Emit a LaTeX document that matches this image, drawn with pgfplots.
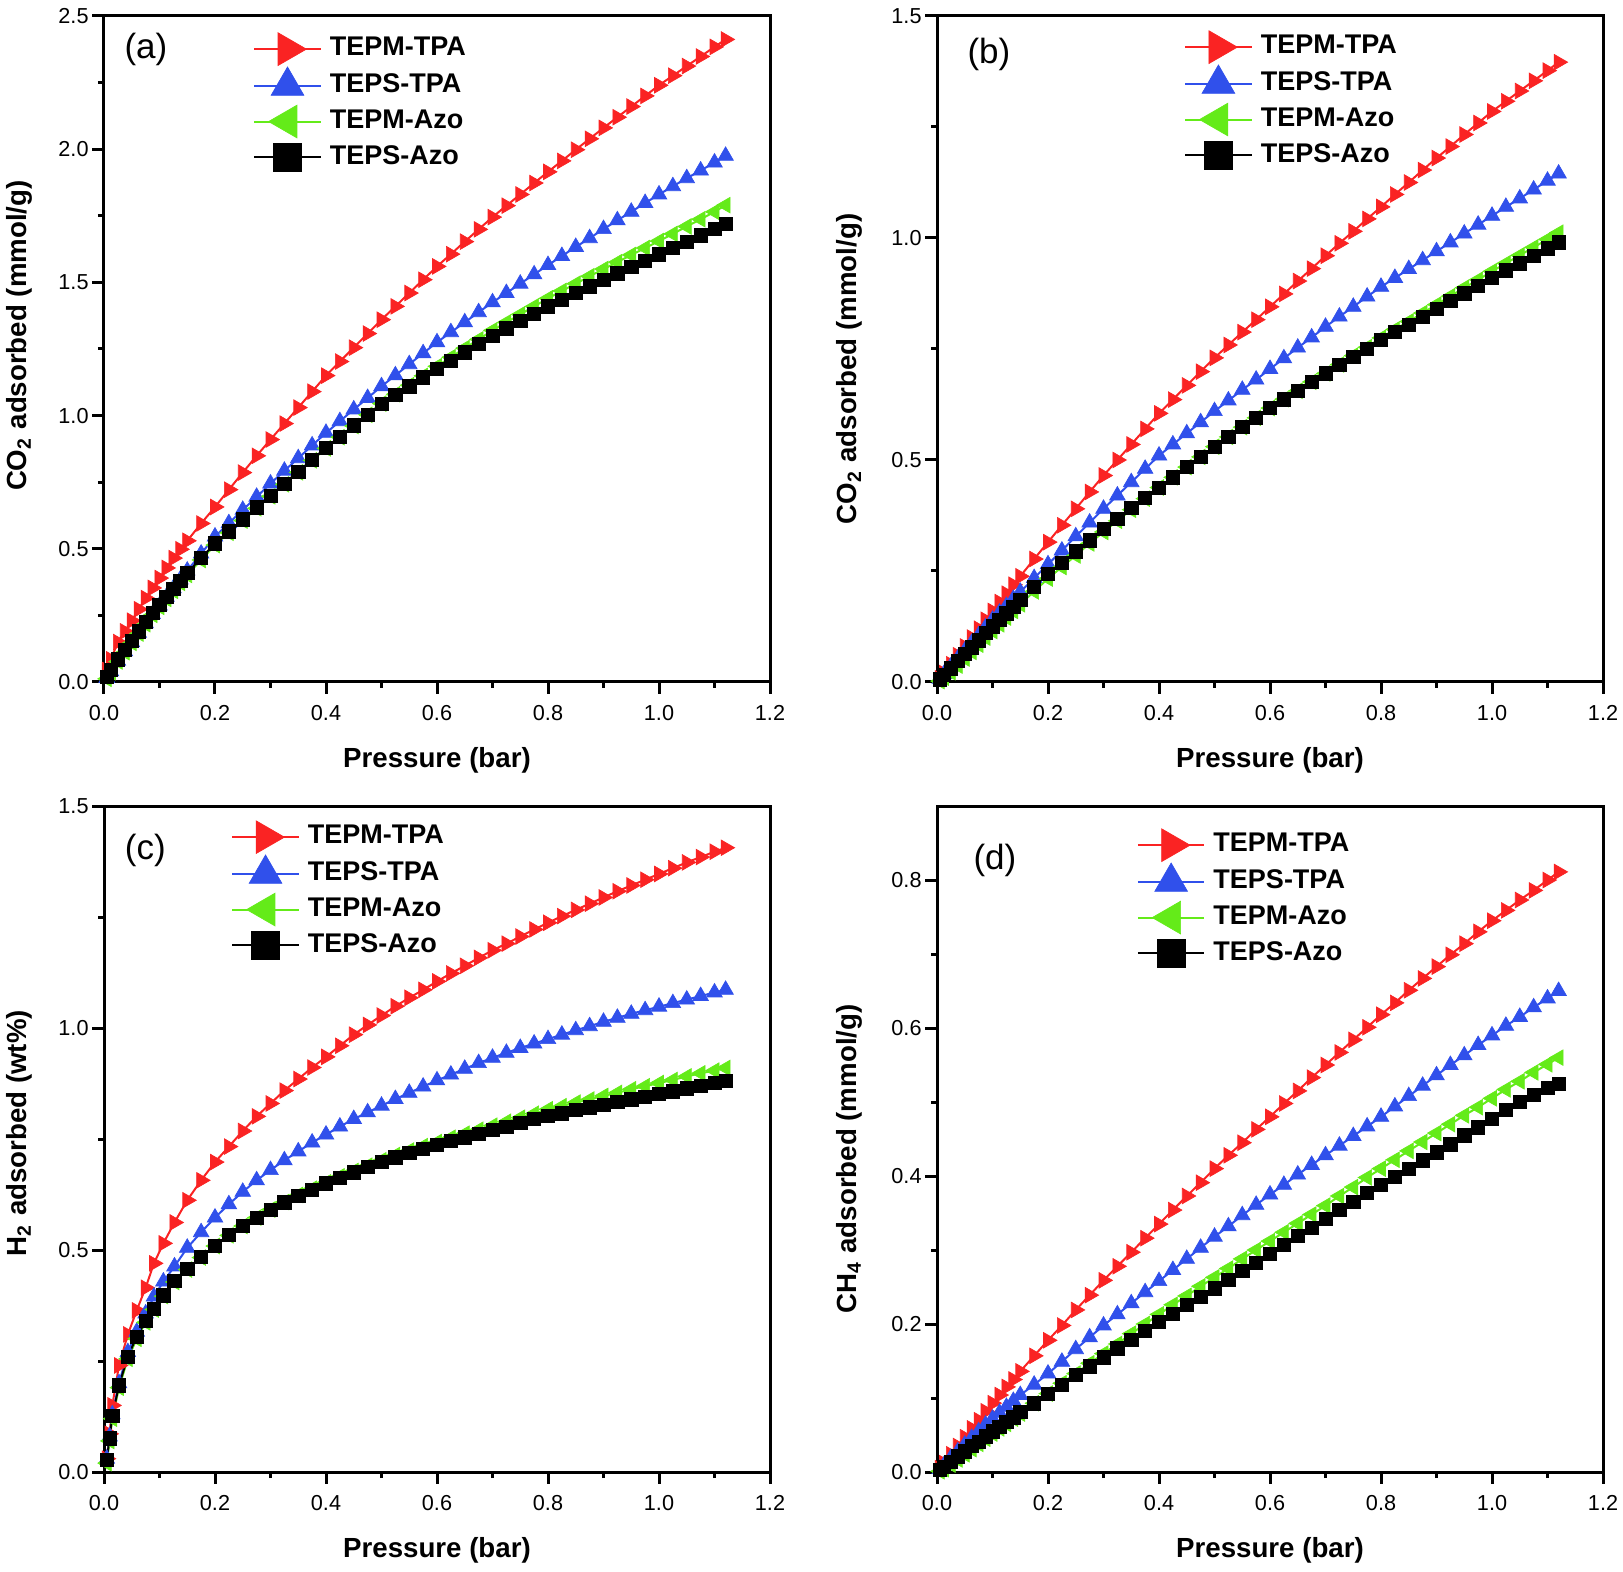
\documentclass[border=0pt]{standalone}
\usepackage{pgfplots}
\pgfplotsset{compat=1.18}
\usepackage{pgfplotstable}
\usepackage{fontspec}
\setmainfont{Liberation Sans}
\definecolor{cR}{RGB}{250,35,35}
\definecolor{cB}{RGB}{48,80,235}
\definecolor{cG}{RGB}{100,235,25}

\pgfplotstableread{
x      r      b      g      k
0.005  0.045  0.015  0.012  0.020
0.0125 0.085  0.040  0.037  0.045
0.025  0.150  0.080  0.077  0.085
0.0375 0.190  0.115  0.112  0.120
0.05   0.230  0.150  0.147  0.155
0.0625 0.273  0.185  0.182  0.190
0.075  0.315  0.220  0.217  0.225
0.0875 0.353  0.255  0.252  0.260
0.1    0.390  0.287  0.282  0.290
0.1125 0.428  0.320  0.312  0.320
0.125  0.465  0.352  0.342  0.350
0.1375 0.498  0.385  0.372  0.380
0.15   0.530  0.418  0.402  0.410
0.175  0.595  0.482  0.458  0.465
0.2    0.657  0.546  0.514  0.520
0.225  0.722  0.596  0.560  0.565
0.25   0.786  0.646  0.606  0.610
0.275  0.849  0.695  0.652  0.655
0.3    0.910  0.745  0.697  0.700
0.325  0.970  0.793  0.742  0.745
0.35   1.030  0.840  0.787  0.790
0.375  1.090  0.888  0.832  0.835
0.4    1.150  0.935  0.877  0.880
0.425  1.203  0.979  0.919  0.921
0.45   1.255  1.023  0.961  0.963
0.475  1.308  1.066  1.003  1.004
0.5    1.360  1.110  1.045  1.045
0.525  1.410  1.151  1.080  1.078
0.55   1.460  1.193  1.114  1.110
0.575  1.510  1.234  1.149  1.143
0.6    1.560  1.275  1.185  1.175
0.625  1.606  1.313  1.219  1.206
0.65   1.653  1.350  1.253  1.238
0.675  1.699  1.388  1.286  1.269
0.7    1.745  1.425  1.320  1.300
0.725  1.788  1.460  1.350  1.328
0.75   1.830  1.495  1.380  1.355
0.775  1.873  1.530  1.410  1.383
0.8    1.915  1.565  1.440  1.410
0.825  1.956  1.599  1.468  1.435
0.85   1.998  1.633  1.495  1.460
0.875  2.039  1.666  1.523  1.485
0.9    2.080  1.700  1.550  1.510
0.925  2.120  1.733  1.576  1.534
0.95   2.160  1.765  1.603  1.558
0.975  2.200  1.798  1.629  1.581
1.0    2.240  1.830  1.655  1.605
1.025  2.276  1.861  1.682  1.629
1.05   2.312  1.891  1.710  1.653
1.075  2.348  1.920  1.737  1.677
1.1    2.384  1.950  1.765  1.701
1.12   2.412  1.975  1.790  1.720
}\tA

\pgfplotstableread{
x      r      b      g      k
0.005  0.008  0.007  0.002  0.006
0.0125 0.020  0.018  0.010  0.016
0.025  0.040  0.035  0.022  0.031
0.0375 0.060  0.053  0.037  0.047
0.05   0.080  0.070  0.053  0.063
0.0625 0.100  0.088  0.068  0.078
0.075  0.120  0.105  0.084  0.094
0.0875 0.140  0.123  0.100  0.110
0.1    0.160  0.140  0.115  0.125
0.1125 0.180  0.156  0.130  0.140
0.125  0.199  0.171  0.145  0.155
0.1375 0.219  0.187  0.160  0.170
0.15   0.238  0.203  0.175  0.185
0.175  0.277  0.234  0.204  0.214
0.2    0.315  0.265  0.233  0.243
0.225  0.353  0.296  0.259  0.268
0.25   0.390  0.328  0.285  0.294
0.275  0.428  0.359  0.312  0.319
0.3    0.465  0.390  0.338  0.345
0.325  0.500  0.420  0.363  0.368
0.35   0.535  0.450  0.388  0.392
0.375  0.570  0.480  0.413  0.415
0.4    0.605  0.510  0.438  0.438
0.425  0.636  0.535  0.461  0.461
0.45   0.668  0.560  0.484  0.484
0.475  0.699  0.585  0.507  0.507
0.5    0.730  0.610  0.530  0.530
0.525  0.759  0.634  0.552  0.552
0.55   0.788  0.658  0.574  0.574
0.575  0.816  0.681  0.595  0.595
0.6    0.845  0.705  0.617  0.617
0.625  0.874  0.729  0.637  0.637
0.65   0.903  0.753  0.656  0.656
0.675  0.931  0.776  0.676  0.676
0.7    0.960  0.800  0.695  0.695
0.725  0.988  0.823  0.715  0.714
0.75   1.015  0.845  0.735  0.733
0.775  1.043  0.868  0.754  0.751
0.8    1.070  0.890  0.775  0.770
0.825  1.098  0.910  0.794  0.788
0.85   1.125  0.930  0.812  0.805
0.875  1.153  0.950  0.831  0.823
0.9    1.180  0.970  0.850  0.840
0.925  1.206  0.990  0.869  0.858
0.95   1.233  1.010  0.888  0.875
0.975  1.259  1.030  0.906  0.893
1.0    1.285  1.050  0.925  0.910
1.025  1.308  1.070  0.943  0.927
1.05   1.331  1.089  0.961  0.943
1.075  1.354  1.109  0.979  0.960
1.1    1.377  1.129  0.997  0.977
1.12   1.396  1.145  1.012  0.990
}\tB

\pgfplotstableread{
x      r      b      g      k
0.005  0.030  0.030  0.020  0.027
0.01   0.086  0.080  0.070  0.076
0.015  0.150  0.130  0.120  0.126
0.027  0.240  0.200  0.190  0.195
0.043  0.310  0.270  0.255  0.260
0.059  0.364  0.316  0.300  0.305
0.075  0.415  0.357  0.337  0.340
0.09   0.470  0.395  0.366  0.368
0.107  0.515  0.429  0.396  0.398
0.127  0.562  0.463  0.428  0.430
0.15   0.612  0.505  0.456  0.457
0.175  0.657  0.540  0.483  0.484
0.2    0.698  0.573  0.509  0.510
0.225  0.733  0.603  0.533  0.534
0.25   0.768  0.631  0.554  0.554
0.275  0.801  0.657  0.573  0.573
0.3    0.830  0.680  0.591  0.590
0.325  0.859  0.702  0.608  0.607
0.35   0.885  0.722  0.624  0.622
0.375  0.911  0.742  0.638  0.636
0.4    0.935  0.760  0.652  0.650
0.425  0.960  0.778  0.666  0.663
0.45   0.985  0.795  0.678  0.675
0.475  1.007  0.810  0.690  0.687
0.5    1.028  0.825  0.702  0.698
0.525  1.049  0.840  0.714  0.709
0.55   1.068  0.854  0.724  0.719
0.575  1.086  0.868  0.734  0.728
0.6    1.105  0.882  0.743  0.737
0.625  1.123  0.895  0.753  0.746
0.65   1.140  0.908  0.762  0.754
0.675  1.158  0.921  0.771  0.762
0.7    1.175  0.933  0.780  0.770
0.725  1.190  0.944  0.789  0.778
0.75   1.206  0.955  0.798  0.786
0.775  1.222  0.965  0.807  0.795
0.8    1.237  0.975  0.817  0.802
0.825  1.252  0.985  0.824  0.808
0.85   1.266  0.995  0.832  0.815
0.875  1.280  1.004  0.839  0.821
0.9    1.294  1.014  0.847  0.827
0.925  1.308  1.023  0.854  0.833
0.95   1.321  1.032  0.862  0.839
0.975  1.334  1.040  0.869  0.845
1.0    1.347  1.048  0.876  0.851
1.025  1.360  1.056  0.883  0.857
1.05   1.373  1.064  0.891  0.864
1.075  1.385  1.072  0.898  0.870
1.1    1.397  1.080  0.904  0.876
1.12   1.406  1.086  0.910  0.881
}\tC

\pgfplotstableread{
x      r      b      g      k
0.005  0.005  0.004  0.001  0.003
0.0125 0.012  0.009  0.004  0.007
0.025  0.024  0.019  0.010  0.014
0.0375 0.035  0.028  0.017  0.021
0.05   0.047  0.037  0.024  0.028
0.0625 0.059  0.046  0.031  0.035
0.075  0.070  0.055  0.038  0.041
0.0875 0.082  0.064  0.045  0.048
0.1    0.093  0.072  0.052  0.055
0.1125 0.104  0.080  0.059  0.061
0.125  0.115  0.088  0.065  0.068
0.1375 0.125  0.096  0.072  0.074
0.15   0.136  0.104  0.079  0.081
0.175  0.157  0.118  0.093  0.093
0.2    0.178  0.133  0.106  0.106
0.225  0.198  0.149  0.120  0.118
0.25   0.219  0.166  0.133  0.131
0.275  0.239  0.182  0.147  0.143
0.3    0.259  0.198  0.160  0.155
0.325  0.278  0.213  0.173  0.167
0.35   0.297  0.228  0.187  0.179
0.375  0.316  0.243  0.200  0.191
0.4    0.335  0.258  0.213  0.203
0.425  0.354  0.273  0.226  0.214
0.45   0.373  0.288  0.238  0.226
0.475  0.391  0.303  0.251  0.237
0.5    0.410  0.318  0.263  0.248
0.525  0.428  0.332  0.275  0.260
0.55   0.445  0.347  0.288  0.272
0.575  0.463  0.361  0.300  0.283
0.6    0.480  0.375  0.312  0.295
0.625  0.498  0.388  0.324  0.307
0.65   0.515  0.402  0.336  0.319
0.675  0.533  0.415  0.348  0.330
0.7    0.550  0.428  0.360  0.342
0.725  0.567  0.441  0.373  0.354
0.75   0.584  0.454  0.385  0.365
0.775  0.601  0.467  0.398  0.377
0.8    0.618  0.480  0.410  0.388
0.825  0.634  0.494  0.422  0.399
0.85   0.651  0.508  0.434  0.410
0.875  0.667  0.522  0.446  0.421
0.9    0.683  0.536  0.458  0.432
0.925  0.699  0.550  0.470  0.443
0.95   0.714  0.563  0.482  0.455
0.975  0.730  0.577  0.493  0.466
1.0    0.745  0.590  0.505  0.477
1.025  0.759  0.603  0.517  0.489
1.05   0.773  0.615  0.528  0.500
1.075  0.786  0.628  0.540  0.510
1.1    0.800  0.640  0.551  0.519
1.12   0.811  0.650  0.560  0.525
}\tD

\newcommand{\labfont}{\fontsize{8.3}{10}\selectfont\bfseries}
\pgfplotsset{
  panel/.style={
    scale only axis, width=199.8pt, height=199.8pt,
    anchor=south west,
    xmin=0, xmax=1.2, ymin=0,
    xtick={0,0.2,0.4,0.6,0.8,1.0,1.2},
    minor x tick num=1, minor y tick num=1,
    tick align=outside, xtick pos=left, ytick pos=left,
    axis line style={line width=0.9pt},
    every tick/.style={black, line width=0.9pt},
    major tick length=3.5pt, minor tick length=1.8pt,
    /pgf/number format/assume math mode=true,
    /pgf/number format/fixed,
    /pgf/number format/fixed zerofill,
    /pgf/number format/precision=1,
    tick label style={font=\fontsize{6.5}{7.5}\selectfont},
    yticklabel style={xshift=2.4pt},
    xlabel={Pressure (bar)},
    every axis x label/.style={at={(axis description cs:0.5,-0.118)}, anchor=center, font=\labfont},
    legend cell align=left,
    legend style={draw=none, fill=none, inner sep=0pt, outer sep=0pt,
      anchor=north west, column sep=2.4pt, row sep=0pt,
      font=\fontsize{8.1}{9}\selectfont\bfseries, nodes={inner sep=0pt}},
    legend image code/.code={
      \path[draw=none, fill=none] (0pt,-5.35pt) rectangle (20pt,5.35pt);
      \draw[##1, line width=0.6pt] (0pt,0pt) -- (20pt,0pt);
      \draw[##1, every mark/.append style={scale=2.1}] plot coordinates {(10pt,0pt)};
    },
  },
  sR/.style={cR, line width=0.6pt, mark=triangle*, mark size=2.7pt,
    mark options={solid, fill=cR, draw=cR, rotate=270, line width=0.2pt}},
  sB/.style={cB, line width=0.6pt, mark=triangle*, mark size=2.7pt,
    mark options={solid, fill=cB, draw=cB, line width=0.2pt}},
  sG/.style={cG, line width=0.6pt, mark=triangle*, mark size=2.7pt,
    mark options={solid, fill=cG, draw=cG, rotate=90, line width=0.2pt}},
  sK/.style={black, line width=0.6pt, mark=square*, mark size=2.0pt,
    mark options={solid, fill=black, draw=black, line width=0.2pt}},
}

\begin{document}
\begin{tikzpicture}
\path[use as bounding box] (0,0) rectangle (486.9pt,471.3pt);

% (a)
\begin{axis}[panel, at={(31.2pt,266.7pt)},
  ymax=2.5, ytick={0,0.5,1.0,1.5,2.0,2.5},
  ylabel={CO\textsubscript{2} adsorbed (mmol/g)},
  every axis y label/.style={at={(axis description cs:-0.127,0.52)}, rotate=90, anchor=center, font=\labfont},
  legend style={at={(axis description cs:0.224,0.977)}}]
\addplot[sR] table[x=x,y=r]{\tA};
\addplot[sB] table[x=x,y=b]{\tA};
\addplot[sG] table[x=x,y=g]{\tA};
\addplot[sK] table[x=x,y=k]{\tA};
\legend{TEPM-TPA,TEPS-TPA,TEPM-Azo,TEPS-Azo}
\node[font=\fontsize{10.5}{12}\selectfont] at (rel axis cs:0.063,0.95) {(a)};
\end{axis}

% (b)
\begin{axis}[panel, at={(281.1pt,266.7pt)},
  ymax=1.5, ytick={0,0.5,1.0,1.5},
  ylabel={CO\textsubscript{2} adsorbed (mmol/g)},
  every axis y label/.style={at={(axis description cs:-0.131,0.47)}, rotate=90, anchor=center, font=\labfont},
  legend style={at={(axis description cs:0.371,0.980)}}]
\addplot[sR] table[x=x,y=r]{\tB};
\addplot[sB] table[x=x,y=b]{\tB};
\addplot[sG] table[x=x,y=g]{\tB};
\addplot[sK] table[x=x,y=k]{\tB};
\legend{TEPM-TPA,TEPS-TPA,TEPM-Azo,TEPS-Azo}
\node[font=\fontsize{10.5}{12}\selectfont] at (rel axis cs:0.078,0.943) {(b)};
\end{axis}

% (c)
\begin{axis}[panel, at={(31.2pt,29.7pt)},
  ymax=1.5, ytick={0,0.5,1.0,1.5},
  ylabel={H\textsubscript{2} adsorbed (wt\%)},
  every axis y label/.style={at={(axis description cs:-0.127,0.509)}, rotate=90, anchor=center, font=\labfont},
  legend style={at={(axis description cs:0.191,0.980)}}]
\addplot[sR] table[x=x,y=r]{\tC};
\addplot[sB] table[x=x,y=b]{\tC};
\addplot[sG] table[x=x,y=g]{\tC};
\addplot[sK] table[x=x,y=k]{\tC};
\legend{TEPM-TPA,TEPS-TPA,TEPM-Azo,TEPS-Azo}
\node[font=\fontsize{10.5}{12}\selectfont] at (rel axis cs:0.062,0.934) {(c)};
\end{axis}

% (d)
\begin{axis}[panel, at={(281.1pt,29.7pt)},
  ymax=0.9, ytick={0,0.2,0.4,0.6,0.8},
  ylabel={CH\textsubscript{4} adsorbed (mmol/g)},
  every axis y label/.style={at={(axis description cs:-0.131,0.47)}, rotate=90, anchor=center, font=\labfont},
  legend style={at={(axis description cs:0.300,0.968)}}]
\addplot[sR] table[x=x,y=r]{\tD};
\addplot[sB] table[x=x,y=b]{\tD};
\addplot[sG] table[x=x,y=g]{\tD};
\addplot[sK] table[x=x,y=k]{\tD};
\legend{TEPM-TPA,TEPS-TPA,TEPM-Azo,TEPS-Azo}
\node[font=\fontsize{10.5}{12}\selectfont] at (rel axis cs:0.087,0.919) {(d)};
\end{axis}
\end{tikzpicture}
\end{document}
